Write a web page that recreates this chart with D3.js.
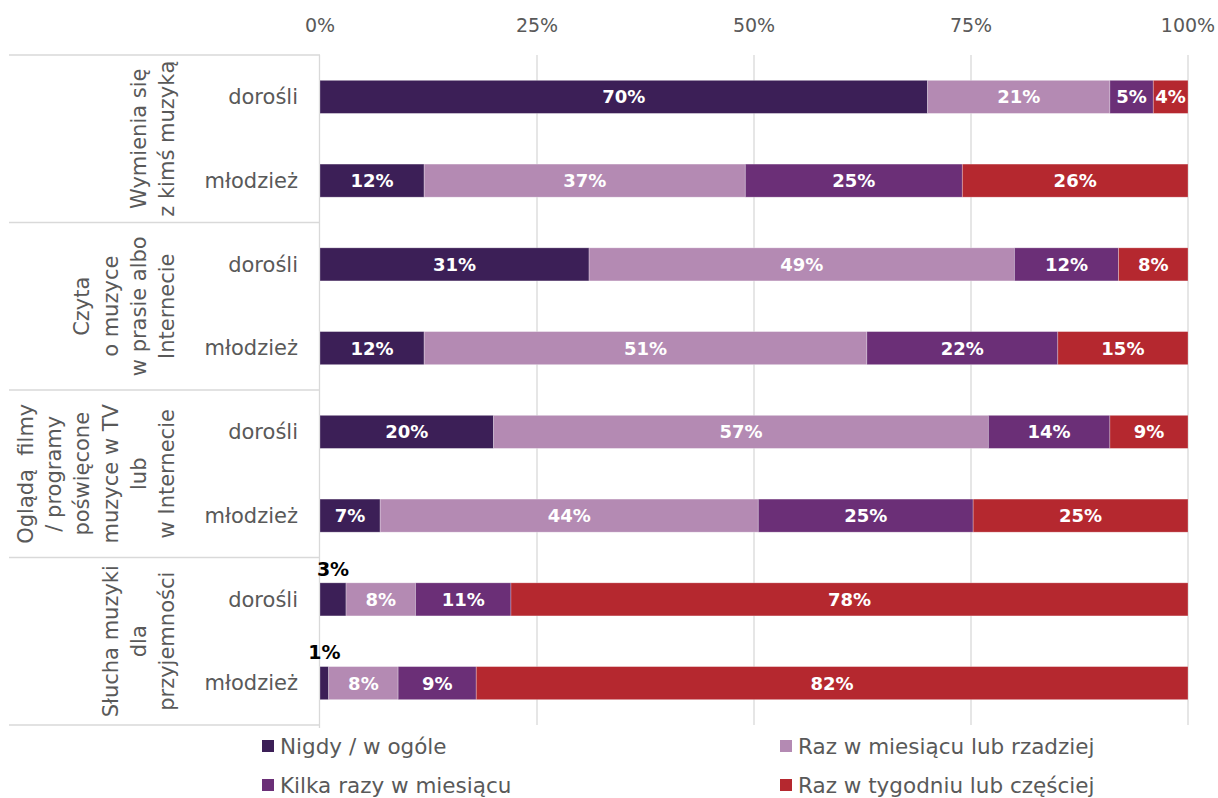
<!DOCTYPE html>
<meta charset="utf-8">
<title>Muzyka - dorośli i młodzież</title>
<style>
  body { margin: 0; background: #fff; }
  text { font-family: "DejaVu Sans", sans-serif; }
</style>
<body>
<svg id="chart" width="1218" height="798"></svg>
<script src="https://cdn.jsdelivr.net/npm/d3@7"></script>
<script>

// groups (vertical labels, one line per entry) and the two respondent rows in each
var groups = [
  ["Wymienia się", "z kimś muzyką"],
  ["Czyta", "o muzyce", "w prasie albo", "Internecie"],
  ["Oglądą  filmy", "/ programy", "poświęcone", "muzyce w TV", "lub", "w Internecie"],
  ["Słucha muzyki", "dla", "przyjemności"]
];
var rowLabels = ["dorośli", "młodzież"];

var seriesNames = ["Nigdy / w ogóle", "Raz w miesiącu lub rzadziej", "Kilka razy w miesiącu", "Raz w tygodniu lub częściej"];
var seriesColors = ["#3c1f57", "#b48ab3", "#6b2f77", "#b5282f"];

// percentages per series, in row order (group1 dorośli, group1 młodzież, ...)
var nigdy   = [70, 12, 31, 12, 20, 7, 3, 1];
var rzadko  = [21, 37, 49, 51, 57, 44, 8, 8];
var kilka   = [5, 25, 12, 22, 14, 25, 11, 9];
var tydzien = [4, 26, 8, 15, 9, 25, 78, 82];

var xTicks = [0, 0.25, 0.5, 0.75, 1];

var rows = [];
groups.forEach(function(g, gi) {
  rowLabels.forEach(function(r, ri) {
    var i = gi * 2 + ri;
    rows.push({ id: i, group: gi, label: r,
      s0: nigdy[i], s1: rzadko[i], s2: kilka[i], s3: tydzien[i] });
  });
});

var svg = d3.select("#chart");
var plotLeft = 320, plotRight = 1188, plotTop = 55, plotBottom = 725;
var grey = "#595959";

var x = d3.scaleLinear().domain([0, 1]).range([plotLeft, plotRight]);
var y = d3.scaleBand()
  .domain(rows.map(function(d) { return d.id; }))
  .range([plotTop, plotBottom])
  .paddingInner(0.605)
  .paddingOuter(0.3025);

var stack = d3.stack()
  .keys(["s0", "s1", "s2", "s3"])
  .offset(d3.stackOffsetExpand);
var series = stack(rows);

// gridlines + top axis labels
svg.append("g").selectAll("line")
  .data(xTicks.slice(1))
  .enter().append("line")
    .attr("x1", function(d) { return x(d); })
    .attr("x2", function(d) { return x(d); })
    .attr("y1", plotTop).attr("y2", plotBottom)
    .attr("stroke", "#d9d9d9").attr("stroke-width", 1.3);

svg.append("g").selectAll("text")
  .data(xTicks)
  .enter().append("text")
    .attr("x", function(d) { return x(d); })
    .attr("y", 25)
    .attr("dy", "0.35em")
    .attr("text-anchor", "middle")
    .attr("fill", grey)
    .style("font-size", "19px")
    .text(d3.format(".0%"));

// category axis line and group separators
svg.append("line")
  .attr("x1", plotLeft - 0.5).attr("x2", plotLeft - 0.5)
  .attr("y1", plotTop).attr("y2", plotBottom + 3)
  .attr("stroke", "#d9d9d9").attr("stroke-width", 1.3);

var bounds = groups.map(function(g, gi) { return y(gi * 2) - y.step() * y.paddingInner() / 2; });
bounds.push(plotBottom);
svg.append("g").selectAll("line")
  .data(bounds)
  .enter().append("line")
    .attr("x1", 9).attr("x2", plotLeft)
    .attr("y1", function(d) { return d; })
    .attr("y2", function(d) { return d; })
    .attr("stroke", "#d9d9d9").attr("stroke-width", 1.3);

// row labels
svg.append("g").selectAll("text")
  .data(rows)
  .enter().append("text")
    .attr("x", 298)
    .attr("y", function(d) { return y(d.id) + y.bandwidth() / 2; })
    .attr("dy", "0.35em")
    .attr("text-anchor", "end")
    .attr("fill", grey)
    .style("font-size", "21px")
    .text(function(d) { return d.label; });

// group labels, rotated, last line at the right
var lineGap = 28.3;
groups.forEach(function(lines, gi) {
  var cy = (bounds[gi] + bounds[gi + 1]) / 2;
  var n = lines.length;
  lines.forEach(function(t, li) {
    var cx = 167 - (n - 1 - li) * lineGap;
    svg.append("text")
      .attr("transform", "translate(" + cx + "," + cy + ") rotate(-90)")
      .attr("dy", "0.35em")
      .attr("text-anchor", "middle")
      .attr("fill", grey)
      .style("font-size", "21px")
      .style("white-space", "pre")
      .text(t);
  });
});

// bars
var layer = svg.append("g").selectAll("g")
  .data(series)
  .enter().append("g")
    .attr("fill", function(d, i) { return seriesColors[i]; });

layer.selectAll("rect")
  .data(function(d) { return d; })
  .enter().append("rect")
    .attr("x", function(d) { return x(d[0]); })
    .attr("width", function(d) { return x(d[1]) - x(d[0]); })
    .attr("y", function(d) { return y(d.data.id); })
    .attr("height", y.bandwidth())
    .attr("stroke", "#fff").attr("stroke-opacity", 0.35).attr("stroke-width", 0.8);

// value labels (tiny segments get a black label above the bar)
series.forEach(function(s) {
  svg.append("g").selectAll("text")
    .data(s)
    .enter().append("text")
      .attr("x", function(d) { return (x(d[0]) + x(d[1])) / 2; })
      .attr("y", function(d) {
        var small = d.data[s.key] < 4;
        return small ? y(d.data.id) - 14 : y(d.data.id) + y.bandwidth() / 2;
      })
      .attr("dy", "0.36em")
      .attr("text-anchor", "middle")
      .attr("fill", function(d) { return d.data[s.key] < 4 ? "#000" : "#fff"; })
      .style("font-size", function(d) { return d.data[s.key] < 4 ? "19px" : "18px"; })
      .style("font-weight", "bold")
      .text(function(d) { return d.data[s.key] + "%"; });
});

// legend
var legendPos = [[262, 746], [780, 746], [262, 785], [780, 785]];
var legend = svg.append("g").selectAll("g")
  .data(seriesNames)
  .enter().append("g")
    .attr("transform", function(d, i) { return "translate(" + legendPos[i][0] + "," + legendPos[i][1] + ")"; });
legend.append("rect")
  .attr("x", 0).attr("y", -6)
  .attr("width", 12).attr("height", 12)
  .attr("fill", function(d, i) { return seriesColors[i]; });
legend.append("text")
  .attr("x", 18)
  .attr("dy", "0.35em")
  .attr("fill", grey)
  .style("font-size", "21.5px")
  .text(function(d) { return d; });

</script>
</body>
